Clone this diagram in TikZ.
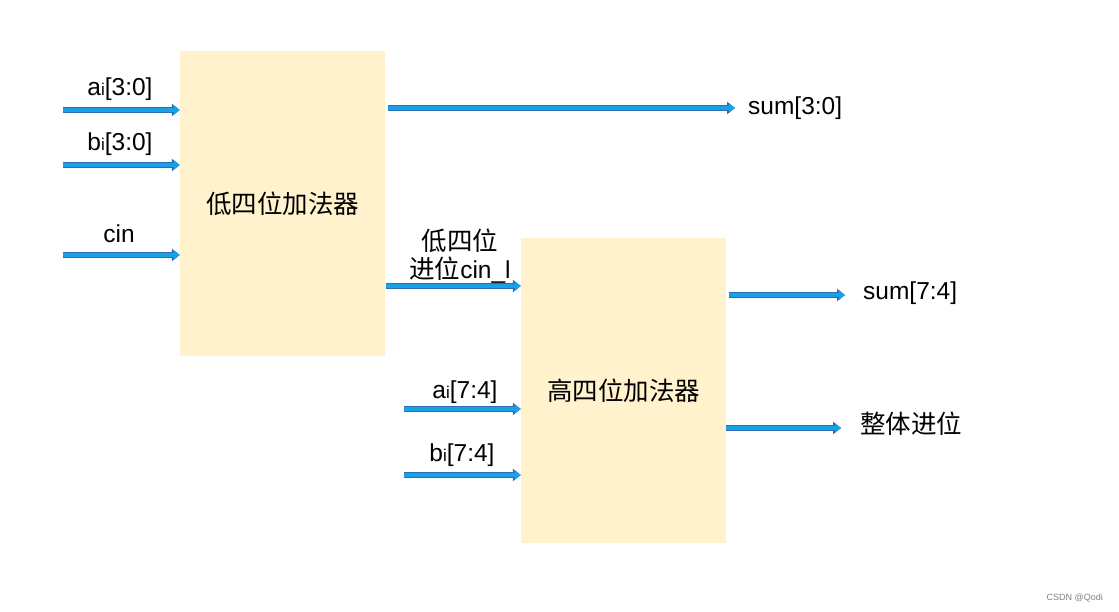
\documentclass[tikz,border=0pt]{standalone}
\usepackage{fontspec}
\setmainfont{Liberation Sans}
\newfontfamily\cjk{Noto Sans CJK SC}
\usetikzlibrary{arrows.meta}
\definecolor{boxfill}{HTML}{FFF2CC}
\definecolor{busfill}{HTML}{17A1E6}
\definecolor{busedge}{HTML}{2E6DB4}
\newcommand{\lbl}{\fontsize{24.5}{28}\selectfont}
\newcommand{\cjklbl}{\cjk\fontsize{25.5}{28}\selectfont}
\newcommand{\sub}[1]{{\fontsize{17}{17}\selectfont #1}}

\begin{document}
\begin{tikzpicture}[x=1pt,y=-1pt,
  adder/.style={fill=boxfill,minimum width=205,minimum height=305,inner sep=0pt,font=\cjklbl},
  bus/.style={draw=busfill,line width=3.5,-{Triangle[length=6,width=9]},
    preaction={draw=busedge,line width=5.5,-{Triangle[length=8,width=12]}}},
  txt/.style={font=\lbl,inner sep=0pt}]
\useasboundingbox[fill=white] (0,0) rectangle (1119,612);
\node[adder] (low) at (282.5,203.5) {低四位加法器};
\node[adder] (high) at (623.5,390.5) {高四位加法器};
% inputs of the low adder
\coordinate (ailo) at (63,110);
\coordinate (bilo) at (63,165);
\coordinate (cin) at (63,255);
\draw[bus] (ailo) -- (ailo -| low.west);
\draw[bus] (bilo) -- (bilo -| low.west);
\draw[bus] (cin) -- (cin -| low.west);
\node[txt] (ailab) at (120,89) {a\sub{i}[3:0]};
\node[txt] (bilab) at (120,144) {b\sub{i}[3:0]};
\node[txt] (cinlab) at (119,234) {cin};
% outputs of the low adder
\coordinate (sumlo) at (735,108);
\draw[bus] ([xshift=3]low.east |- sumlo) -- (sumlo);
\node[txt,anchor=west] (sumlolab) at (748,108) {sum[3:0]};
\coordinate (carry) at (386,286);
\draw[bus] (carry) -- (carry -| high.west);
\node[txt,align=center] (carrylab) at (460,256) {{\cjklbl 低四位}\\{\cjklbl 进位}cin\_l};
% inputs of the high adder
\coordinate (aihi) at (404,409);
\coordinate (bihi) at (404,475);
\draw[bus] (aihi) -- (aihi -| high.west);
\draw[bus] (bihi) -- (bihi -| high.west);
\node[txt] (aihilab) at (465,392) {a\sub{i}[7:4]};
\node[txt] (bihilab) at (462,455) {b\sub{i}[7:4]};
% outputs of the high adder
\coordinate (sumhi) at (845,295);
\coordinate (cout) at (841,428);
\draw[bus] ([xshift=3]high.east |- sumhi) -- (sumhi);
\draw[bus] (high.east |- cout) -- (cout);
\node[txt,anchor=west] (sumhilab) at (863,293) {sum[7:4]};
\node[txt,anchor=west,font=\cjklbl] (coutlab) at (860,424) {整体进位};
\node[anchor=east,inner sep=0pt,text=gray,font=\fontsize{9}{10}\selectfont] (mark) at (1103,598) {CSDN @Qodi};
\end{tikzpicture}
\end{document}
